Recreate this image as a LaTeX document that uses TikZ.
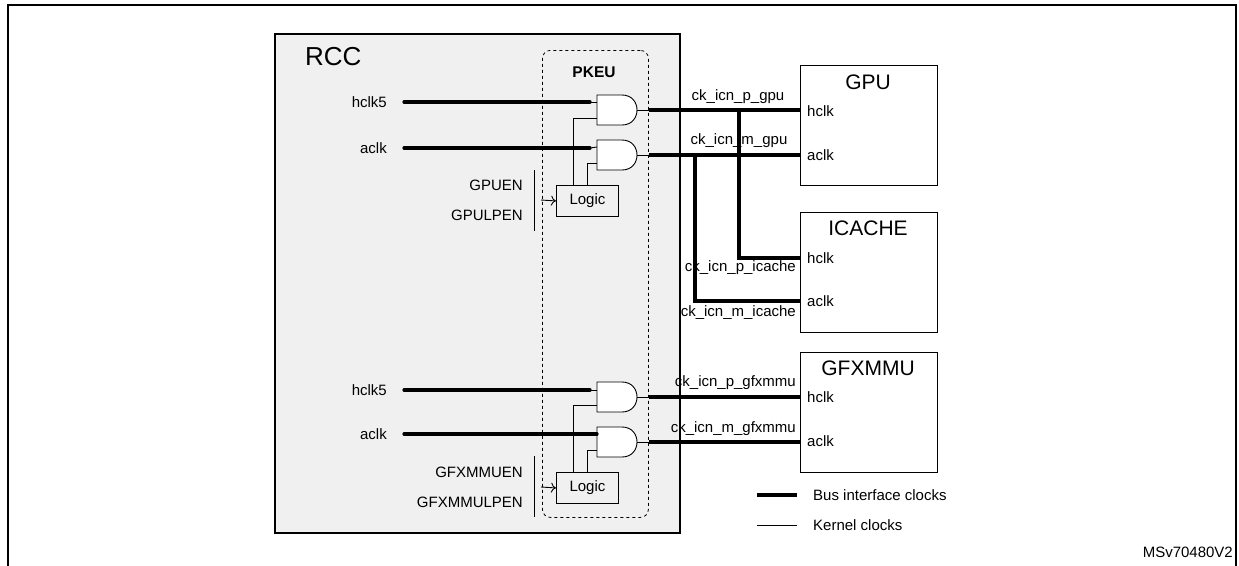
\documentclass[tikz,border=0pt]{standalone}
\usepackage{fontspec}
\setmainfont{Liberation Sans}
\usetikzlibrary{arrows.meta}
\begin{document}
\begin{tikzpicture}[x=1pt,y=-1pt,
  lbl/.style={font=\fontsize{15}{17}\selectfont,inner sep=0pt},
  ttl/.style={font=\fontsize{21}{24}\selectfont,inner sep=0pt},
  bus/.style={line width=3.2pt},
  krn/.style={line width=0.9pt},
  enarrow/.style={krn,-{To[length=5pt,width=10pt]}},
  periph/.style={draw,line width=1pt,minimum width=137pt,minimum height=120pt,anchor=north west,inner sep=0pt},
  logicbox/.style={draw,line width=0.9pt,minimum width=62pt,minimum height=31pt,anchor=north west,inner sep=0pt,font=\fontsize{15}{17}\selectfont}]
\useasboundingbox (0,0) rectangle (1239,565);
\draw[line width=1.5pt] (8,567) -- (8,5) -- (1236,5) -- (1236,567);
% RCC
\node[draw,line width=2pt,fill=black!6,minimum width=405pt,minimum height=499pt,anchor=north west,inner sep=0pt] (rcc) at (274,33) {};
\node[font=\fontsize{26}{28}\selectfont,anchor=west,inner sep=0pt] (rcct) at (305,57) {RCC};
\node[draw,dashed,rounded corners=8pt,line width=0.8pt,minimum width=106pt,minimum height=467pt,anchor=north west,inner sep=0pt] (pkeu) at (542,50) {};
\node[font=\bfseries\fontsize{15.5}{17}\selectfont,inner sep=0pt] (pkeut) at (594,72) {PKEU};
% gates
\foreach \n/\y in {g1/110,g2/155,g3/397,g4/442}{
  \draw[krn,fill=white] (597,\y-15) -- (622,\y-15) .. controls (642,\y-15) and (642,\y+15) .. (622,\y+15) -- (597,\y+15) -- cycle;
  \coordinate (\n in1) at (597,\y-8);
  \coordinate (\n in2) at (597,\y+8);
  \coordinate (\n out) at (637,\y);
  \coordinate (\n bus) at (649,\y);
}
% logic
\node[logicbox] (log1) at (556,185) {Logic};
\node[logicbox] (log2) at (556,472) {Logic};
% inputs upper
\node[lbl,anchor=east] (h1) at (387,102) {hclk5};
\node[lbl,anchor=east] (a1) at (387,148) {aclk};
\coordinate (h1e) at (590,102);\coordinate (a1e) at (590,148);
\draw[bus,line cap=round] (404,102) -- (h1e);\draw[krn] (h1e) -- (g1in1);
\draw[bus,line cap=round] (404,148) -- (a1e);\draw[krn] (a1e) -- (g2in1);
\draw[krn] (log1.north -| 573,0) -- (573,118) -- (g1in2 |- 0,118);
\draw[krn] (log1.north -| 587,0) -- (587,163) -- (g2in2 |- 0,163);
\node[lbl,anchor=east] (en1) at (523,185) {GPUEN};
\node[lbl,anchor=east] (lp1) at (523,215) {GPULPEN};
\draw[krn] (534,170) -- (534,231);
\draw[enarrow] (541,200) -- (log1.west);
% inputs lower
\node[lbl,anchor=east] (h2) at (387,390) {hclk5};
\node[lbl,anchor=east] (a2) at (387,434) {aclk};
\coordinate (h2e) at (590,390);
\draw[bus,line cap=round] (404,390) -- (h2e);\draw[krn] (h2e) -- (g3in1 |- 0,390);
\draw[bus,line cap=round] (404,434) -- (g4in1 |- 0,434);
\draw[krn] (log2.north -| 573,0) -- (573,405) -- (g3in2 |- 0,405);
\draw[krn] (log2.north -| 587,0) -- (587,450) -- (g4in2 |- 0,450);
\node[lbl,anchor=east] (en2) at (523,472) {GFXMMUEN};
\node[lbl,anchor=east] (lp2) at (523,502) {GFXMMULPEN};
\draw[krn] (534,456) -- (534,517);
\draw[enarrow] (541,487) -- (log2.west);
% peripherals
\node[periph] (gpu) at (800,65) {};
\node[ttl] at (868,82) {GPU};
\node[lbl,anchor=west] (gh) at (807,111) {hclk};
\node[lbl,anchor=west] (ga) at (807,155) {aclk};
\node[periph] (ic) at (800,212) {};
\node[ttl] at (868,228) {ICACHE};
\node[lbl,anchor=west] (ih) at (807,258) {hclk};
\node[lbl,anchor=west] (ia) at (807,301) {aclk};
\node[periph] (gf) at (800,352) {};
\node[ttl] at (868,368) {GFXMMU};
\node[lbl,anchor=west] (fh) at (807,397) {hclk};
\node[lbl,anchor=west] (fa) at (807,441) {aclk};
% outputs
\foreach \g in {g1,g2,g3,g4}{
  \draw[krn] (\g out) -- (\g bus);
  \draw[bus] (\g bus) -- (gpu.west |- \g bus);
}
\draw[bus] (739,110) -- (739,258) -- (ic.west |- 0,258);
\draw[bus] (695,155) -- (695,301) -- (ic.west |- 0,301);
\node[lbl] (l1) at (738,97) {ck\_icn\_p\_gpu};
\node[lbl] (l2) at (739,141) {ck\_icn\_m\_gpu};
\node[lbl,anchor=east] (l3) at (796,268) {ck\_icn\_p\_icache};
\node[lbl,anchor=east] (l4) at (796,313) {ck\_icn\_m\_icache};
\node[lbl,anchor=east] (l5) at (796,383) {ck\_icn\_p\_gfxmmu};
\node[lbl,anchor=east] (l6) at (796,429) {ck\_icn\_m\_gfxmmu};
% legend
\node[lbl,anchor=west] (lb) at (813,495) {Bus interface clocks};
\node[lbl,anchor=west] (lk) at (813,525) {Kernel clocks};
\draw[bus] (757,495) -- (797,495);
\draw[krn] (757,525) -- (797,525);
\node[lbl,anchor=east] (ms) at (1233,552) {MSv70480V2};
\end{tikzpicture}
\end{document}
